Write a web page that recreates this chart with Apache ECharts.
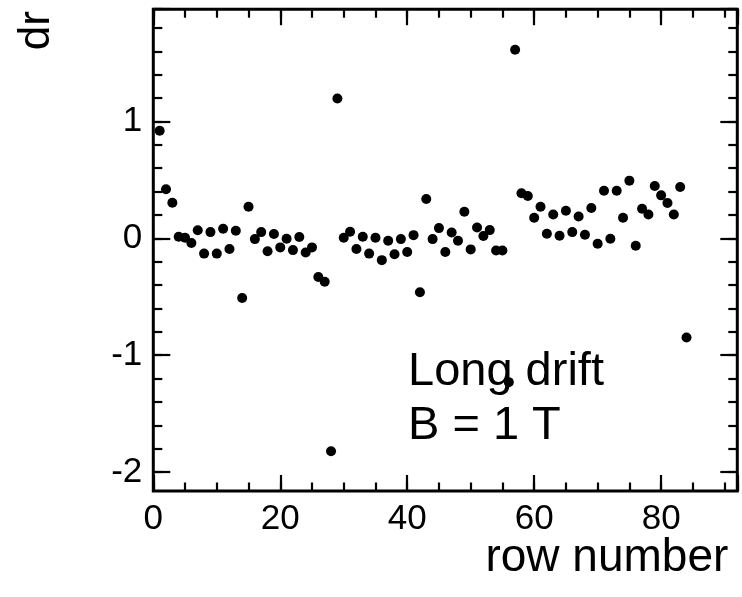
<!DOCTYPE html>
<html>
<head>
<meta charset="utf-8">
<script src="https://cdn.jsdelivr.net/npm/echarts@6/dist/echarts.min.js"></script>
<style>
html,body{margin:0;padding:0;background:#fff;}
#chart{width:742px;height:597px;}
</style>
</head>
<body>
<div id="chart"></div>
<script>
// Row numbers (x) and residuals dr (y)
var rows = [1,2,3,4,5,6,7,8,9,10,11,12,13,14,15,16,17,18,19,20,
  21,22,23,24,25,26,27,28,29,30,31,32,33,34,35,36,37,38,39,40,
  41,42,43,44,45,46,47,48,49,50,51,52,53,54,55,56,57,58,59,60,
  61,62,63,64,65,66,67,68,69,70,71,72,73,74,75,76,77,78,79,80,
  81,82,83,84];
var dr = [0.92,0.42,0.305,0.014,0.005,-0.04,0.07,-0.13,0.054,-0.13,
  0.083,-0.09,0.065,-0.51,0.27,-0.006,0.054,-0.11,0.037,-0.077,
  -0.003,-0.10,0.012,-0.12,-0.077,-0.33,-0.37,-1.82,1.196,0.005,
  0.057,-0.09,0.014,-0.13,0.005,-0.186,-0.02,-0.135,-0.006,-0.117,
  0.028,-0.46,0.337,-0.006,0.088,-0.117,0.051,-0.02,0.228,-0.094,
  0.094,0.02,0.071,-0.103,-0.103,-1.229,1.614,0.386,0.362,0.177,
  0.27,0.04,0.205,0.023,0.237,0.054,0.188,0.031,0.26,-0.046,
  0.408,-0.003,0.408,0.177,0.494,-0.063,0.254,0.205,0.448,0.368,
  0.302,0.205,0.44,-0.848];
var xTickLabels = [0,20,40,60,80];
var yTickLabels = [-2,-1,0,1];
var xRange = [0, 92];
var yRange = [-2.16, 1.96];
var xTitle = 'row number';
var yTitle = 'dr';
var noteLines = ['Long drift', 'B = 1 T'];

var points = rows.map(function(r, i){ return [r, dr[i]]; });

var FONT = '"Liberation Sans", Arial, Helvetica, sans-serif';
var TICKW = 2.2;

function hasTick(list, v){
  for (var i = 0; i < list.length; i++) if (Math.abs(list[i] - v) < 1e-6) return true;
  return false;
}
function tickAxis(extra){
  var base = {
    type: 'value',
    axisLine: {show: false, onZero: false},
    splitLine: {show: false},
    axisLabel: {show: false},
    axisTick: {show: true, inside: true, lineStyle: {color: '#000', width: TICKW}}
  };
  for (var k in extra) base[k] = extra[k];
  return base;
}

var chart = echarts.init(document.getElementById('chart'), null, {renderer: 'canvas'});
var option = {
  backgroundColor: '#fff',
  animation: false,
  textStyle: {fontFamily: FONT, color: '#000'},
  title: {
    text: noteLines.join('\n'),
    left: 408, top: 345, padding: 0,
    textStyle: {fontFamily: FONT, fontSize: 47, fontWeight: 'normal', color: '#000', lineHeight: 54}
  },
  grid: [
    {left: 153.3, top: 9.2, right: 4.7, bottom: 106, show: true, containLabel: false, outerBoundsMode: 'none',
     borderColor: '#000', borderWidth: 3, backgroundColor: 'transparent'},
    {left: 153.3, top: 9.2, right: 4.7, bottom: 124.9, containLabel: false, outerBoundsMode: 'none'}
  ],
  xAxis: [
    tickAxis({gridIndex: 0, position: 'bottom', min: xRange[0], max: xRange[1], interval: 20,
      axisTick: {show: true, inside: true, length: 16, lineStyle: {color: '#000', width: TICKW}},
      axisLabel: {show: true, margin: 11, fontSize: 35, fontFamily: FONT, color: '#000',
        showMinLabel: true, showMaxLabel: true,
        formatter: function(v){ return hasTick(xTickLabels, v) ? String(Math.round(v)) : ''; }},
      name: xTitle, nameLocation: 'end', nameGap: -9, nameMoveOverlap: false,
      nameTextStyle: {fontSize: 46, fontFamily: FONT, color: '#000', align: 'right', verticalAlign: 'top', padding: [44, 0, 0, 0]}
    }),
    tickAxis({gridIndex: 0, position: 'bottom', min: xRange[0], max: xRange[1], interval: 5,
      axisTick: {show: true, inside: true, length: 8.5, lineStyle: {color: '#000', width: TICKW}}}),
    tickAxis({gridIndex: 0, position: 'top', min: xRange[0], max: xRange[1], interval: 20,
      axisTick: {show: true, inside: true, length: 16, lineStyle: {color: '#000', width: TICKW}}}),
    tickAxis({gridIndex: 0, position: 'top', min: xRange[0], max: xRange[1], interval: 5,
      axisTick: {show: true, inside: true, length: 8.5, lineStyle: {color: '#000', width: TICKW}}}),
    {type: 'value', gridIndex: 1, min: xRange[0], max: xRange[1], show: false, axisLine: {onZero: false}}
  ],
  yAxis: [
    {type: 'value', gridIndex: 0, min: yRange[0], max: yRange[1], show: false, splitLine: {show: false}, axisLine: {onZero: false}},
    tickAxis({gridIndex: 1, position: 'left', min: -2, max: yRange[1], interval: 1,
      axisTick: {show: true, inside: true, length: 17, lineStyle: {color: '#000', width: TICKW}},
      axisLabel: {show: true, margin: 11, fontSize: 35, fontFamily: FONT, color: '#000',
        showMinLabel: true, showMaxLabel: true,
        formatter: function(v){ return hasTick(yTickLabels, v) ? String(Math.round(v)) : ''; }},
      name: yTitle, nameLocation: 'end', nameGap: -41, nameRotate: 90, nameMoveOverlap: false,
      nameTextStyle: {fontSize: 44, fontFamily: FONT, color: '#000', align: 'left', verticalAlign: 'bottom', padding: [0, 0, 94, 0]}
    }),
    tickAxis({gridIndex: 1, position: 'left', min: -2, max: yRange[1], interval: 0.2,
      axisTick: {show: true, inside: true, length: 9, lineStyle: {color: '#000', width: TICKW}}}),
    tickAxis({gridIndex: 1, position: 'right', min: -2, max: yRange[1], interval: 1,
      axisTick: {show: true, inside: true, length: 17, lineStyle: {color: '#000', width: TICKW}}}),
    tickAxis({gridIndex: 1, position: 'right', min: -2, max: yRange[1], interval: 0.2,
      axisTick: {show: true, inside: true, length: 9, lineStyle: {color: '#000', width: TICKW}}})
  ],
  series: [{
    type: 'scatter',
    name: 'dr',
    xAxisIndex: 0, yAxisIndex: 0,
    symbol: 'circle', symbolSize: 10,
    itemStyle: {color: '#000', opacity: 1},
    data: points,
    z: 5
  }]
};
chart.setOption(option);
</script>
</body>
</html>
